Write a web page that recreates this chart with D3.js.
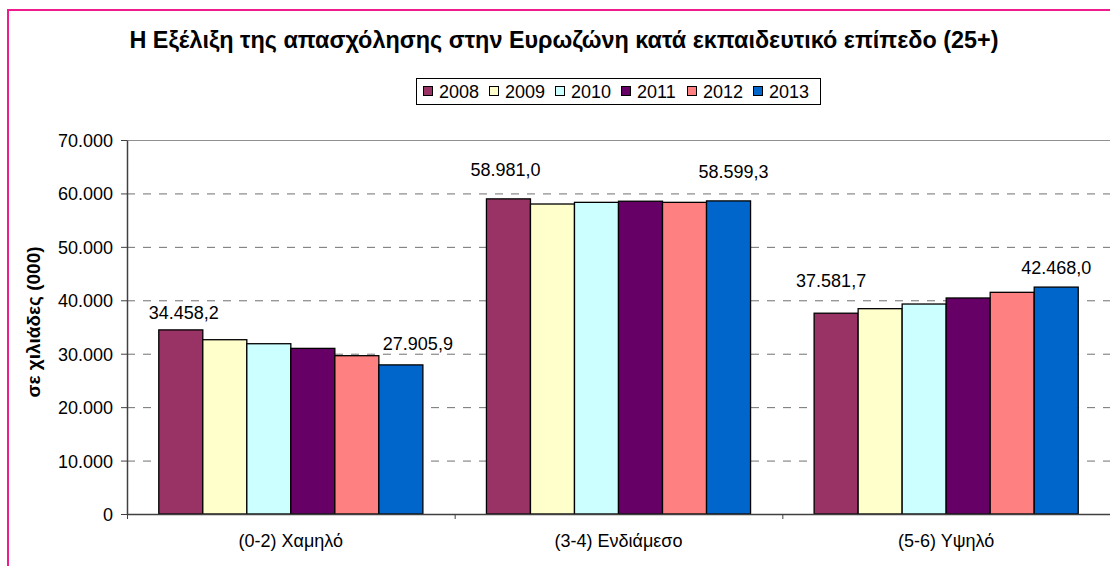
<!DOCTYPE html>
<html>
<head>
<meta charset="utf-8">
<script src="https://cdn.jsdelivr.net/npm/d3@7"></script>
<style>
  html, body { margin: 0; padding: 0; background: #fff; }
  svg { display: block; font-family: "Liberation Sans", Arial, sans-serif; }
</style>
</head>
<body>
<svg id="chart" width="1110" height="566"></svg>
<script>
// ---- data ----
const categories = ["(0-2) Χαμηλό", "(3-4) Ενδιάμεσο", "(5-6) Υψηλό"];
const years = ["2008", "2009", "2010", "2011", "2012", "2013"];
const v2008 = [34458.2, 58981.0, 37581.7];
const v2009 = [32620, 58020, 38430];
const v2010 = [31870, 58330, 39300];
const v2011 = [31000, 58540, 40430];
const v2012 = [29630, 58330, 41490];
const v2013 = [27905.9, 58599.3, 42468.0];
const yTicks = [0, 10000, 20000, 30000, 40000, 50000, 60000, 70000];
const labelledYears = ["2008", "2013"];
const titleText = "Η Εξέλιξη της απασχόλησης στην Ευρωζώνη κατά εκπαιδευτικό επίπεδο (25+)";
const yTitle = "σε χιλιάδες (000)";

const seriesValues = [v2008, v2009, v2010, v2011, v2012, v2013];
const colors = ["#993366", "#FFFFCC", "#CCFFFF", "#660066", "#FF8080", "#0066CC"];

// label offsets (layout only): [dx, gap above bar] per category for 2008 / 2013
const labelLayout = {
  "2008": [[3, 11], [-3, 23], [-5, 26]],
  "2013": [[17, 15], [5, 23], [0, 13]]
};

const FS = 18;
const locale = d3.formatLocale({decimal: ",", thousands: ".", grouping: [3], currency: ["", "€"]});
const fmtTick = locale.format(",.0f");
const fmtLab = locale.format(",.1f");

const svg = d3.select("#chart");
const W = 1110, H = 566;
const plot = {left: 127, right: 1110, top: 140, bottom: 514};

// border
svg.append("rect").attr("x", 8).attr("y", 10).attr("width", W + 10).attr("height", H + 10)
  .attr("fill", "#fff").attr("stroke", "#EE1C8E").attr("stroke-width", 2);

// scales
const x = d3.scaleBand().domain(categories).range([plot.left, plot.right]).padding(0);
const xb = d3.scaleLinear().domain([0, categories.length]).range([plot.left, plot.right]);
const gapFrac = 0.097;
const xs = d3.scaleBand().domain(years)
  .range([x.bandwidth() * gapFrac, x.bandwidth() * (1 - gapFrac)]).padding(0);
const y = d3.scaleLinear().domain([0, 70000]).range([plot.bottom, plot.top]);

// gridlines
svg.append("g").selectAll("line").data(yTicks.filter(d => d > 0 && d < 70000)).join("line")
  .attr("x1", plot.left).attr("x2", plot.right)
  .attr("y1", d => y(d) + 0.5).attr("y2", d => y(d) + 0.5)
  .attr("stroke", "#707070").attr("stroke-width", 1).attr("stroke-dasharray", "8,8");
svg.append("line").attr("x1", plot.left).attr("x2", plot.right)
  .attr("y1", y(70000) + 0.5).attr("y2", y(70000) + 0.5)
  .attr("stroke", "#909090").attr("stroke-width", 1);

// bars
const rows = [];
categories.forEach((c, ci) => years.forEach((yr, si) => rows.push({c, ci, yr, si, v: seriesValues[si][ci]})));
svg.append("g").selectAll("rect").data(rows).join("rect")
  .attr("x", d => x(d.c) + xs(d.yr))
  .attr("y", d => y(d.v))
  .attr("width", xs.bandwidth())
  .attr("height", d => y(0) - y(d.v))
  .attr("fill", d => colors[d.si])
  .attr("stroke", "#000").attr("stroke-width", 1.3);

// y axis
const yAxis = svg.append("g").attr("transform", `translate(${plot.left},0)`)
  .call(d3.axisLeft(y).tickValues(yTicks).tickFormat(fmtTick).tickSize(6).tickSizeOuter(0));
yAxis.select(".domain").attr("stroke", "#404040").attr("stroke-width", 1.5);
yAxis.selectAll(".tick line").attr("stroke", "#404040");
yAxis.selectAll(".tick text")
  .attr("x", -14).attr("dy", "0.36em")
  .attr("font-size", FS).attr("fill", "#000")
  .attr("font-family", "'Liberation Sans', Arial, sans-serif");

// x axis: boundary ticks
const xTickAxis = svg.append("g").attr("transform", `translate(0,${plot.bottom})`)
  .call(d3.axisBottom(xb).tickValues([0, 1, 2, 3]).tickFormat("").tickSize(5).tickSizeOuter(0));
xTickAxis.select(".domain").attr("stroke", "#404040").attr("stroke-width", 1.5);
xTickAxis.selectAll(".tick line").attr("stroke", "#404040");
// x axis: category labels
const xLab = svg.append("g").attr("transform", `translate(0,${plot.bottom})`)
  .call(d3.axisBottom(x).tickSize(0));
xLab.select(".domain").remove();
xLab.selectAll(".tick text")
  .attr("y", 33).attr("dy", 0)
  .attr("font-size", FS).attr("fill", "#000")
  .attr("font-family", "'Liberation Sans', Arial, sans-serif");

// data labels
const labs = rows.filter(d => labelledYears.includes(d.yr));
svg.append("g").selectAll("text").data(labs).join("text")
  .attr("x", d => x(d.c) + xs(d.yr) + xs.bandwidth() / 2 + labelLayout[d.yr][d.ci][0])
  .attr("y", d => y(d.v) - labelLayout[d.yr][d.ci][1])
  .attr("text-anchor", "middle").attr("font-size", FS).attr("fill", "#000")
  .text(d => fmtLab(d.v));

// y title
svg.append("text")
  .attr("transform", "translate(40,322) rotate(-90)")
  .attr("text-anchor", "middle").attr("font-size", 19).attr("font-weight", "bold")
  .text(yTitle);

// title
svg.append("text")
  .attr("x", 564).attr("y", 48)
  .attr("text-anchor", "middle").attr("font-size", 23.4).attr("font-weight", "bold")
  .text(titleText);

// legend
const leg = svg.append("g");
leg.append("rect").attr("x", 416.5).attr("y", 78.5).attr("width", 404).attr("height", 26)
  .attr("fill", "#fff").attr("stroke", "#000").attr("stroke-width", 1);
const li = leg.selectAll("g").data(years).join("g")
  .attr("transform", (d, i) => `translate(${423 + i * 66},0)`);
li.append("rect").attr("x", 0.5).attr("y", 86.5).attr("width", 9).attr("height", 9)
  .attr("fill", (d, i) => colors[i]).attr("stroke", "#000").attr("stroke-width", 1);
li.append("text").attr("x", 16).attr("y", 97.5)
  .attr("font-size", FS).attr("fill", "#000").text(d => d);
</script>
</body>
</html>
